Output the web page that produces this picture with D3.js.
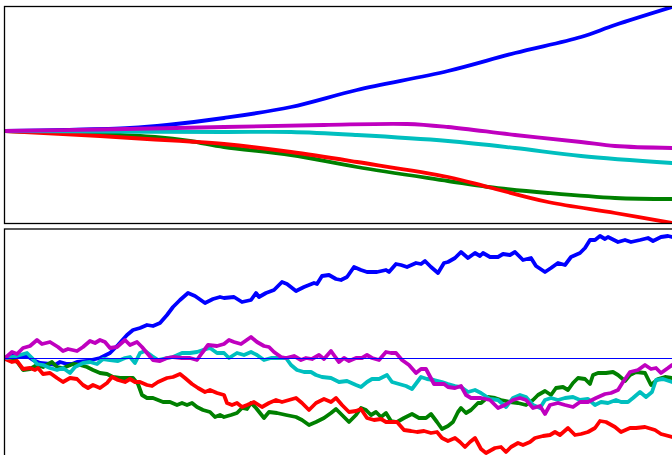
<!DOCTYPE html>
<html>
<head>
<meta charset="utf-8">
<script src="https://cdn.jsdelivr.net/npm/d3@7"></script>
<style>
  html, body { margin: 0; padding: 0; background: #fff; }
  svg { display: block; }
</style>
</head>
<body>
<svg id="chart" width="672" height="455"></svg>
<script>
// Series names and colours (drawn in this order, last on top)
const seriesNames = ["blue", "green", "red", "cyan", "magenta"];
const seriesColors = ["#0000ff", "#008000", "#ff0000", "#00bfbf", "#bf00bf"];

// Upper panel: expected paths, [step, value]
const meanBlue    = [[0,0],[60,1],[125,3],[162,6],[219,13],[286,24],[352,41],[443,60],[510,78],[576,94],[610,106],[667,124]];
const meanGreen   = [[0,0],[95,-3],[150,-6],[185,-10],[219,-16],[286,-24],[352,-36],[443,-50],[483,-56],[543,-62],[610,-67],[667,-68]];
const meanRed     = [[0,0],[95,-5],[150,-8.5],[185,-10.5],[219,-13],[286,-21],[352,-31],[443,-46],[483,-56],[543,-71],[610,-82],[667,-92]];
const meanCyan    = [[0,0],[100,-0.5],[219,-1],[286,-1],[352,-4],[443,-10],[510,-17],[576,-25],[667,-32]];
const meanMagenta = [[0,0],[95,1.5],[219,4],[319,6],[402,7],[443,4],[510,-4],[576,-11],[610,-15],[667,-17]];

// Lower panel: simulated paths, [step, value]
const pathBlue = [[0,0],[8,3],[15,1],[22,2],[28,-2],[35,-5],[45,-6],[50,-7],[55,-4],[62,-6],[67,-6],[72,-4],[82,-3],[95,0],[105,5],[113,13],[122,23],[128,28],[135,30],[142,33],[148,32],[155,35],[162,43],[168,51],[175,58],[183,65],[190,62],[200,55],[208,59],[215,61],[219,60],[229,61],[237,56],[246,58],[251,65],[254,61],[261,65],[269,68],[277,76],[282,74],[291,67],[299,71],[309,75],[312,74],[317,82],[324,83],[331,79],[336,78],[342,81],[349,91],[356,88],[362,86],[372,86],[381,88],[384,86],[391,94],[396,93],[402,91],[411,95],[416,94],[420,97],[426,91],[433,85],[439,95],[443,96],[450,100],[456,106],[463,100],[470,105],[475,102],[478,105],[485,101],[493,101],[498,104],[505,103],[510,106],[518,98],[526,100],[531,92],[540,86],[546,90],[553,95],[560,93],[566,101],[575,105],[580,110],[585,118],[590,118],[595,122],[600,119],[603,121],[613,116],[620,118],[626,116],[635,118],[643,120],[648,117],[656,121],[663,122],[667,121]];

const pathGreen = [[0,0],[8,0],[13,-5],[18,-12],[25,-11],[32,-7],[38,-9],[47,-4],[52,-9],[58,-10],[68,-6],[75,-7],[82,-9],[88,-12],[95,-15],[102,-16],[108,-19],[115,-20],[122,-20],[128,-20],[133,-26],[137,-37],[142,-40],[148,-40],[153,-42],[158,-44],[165,-44],[172,-47],[177,-45],[182,-47],[187,-45],[192,-49],[198,-52],[205,-54],[210,-59],[215,-57],[219,-59],[226,-57],[232,-55],[237,-50],[242,-51],[246,-45],[251,-50],[259,-60],[264,-54],[272,-55],[281,-57],[291,-59],[297,-62],[304,-67],[311,-64],[319,-60],[326,-55],[331,-51],[337,-57],[344,-64],[351,-57],[356,-50],[361,-52],[366,-57],[371,-54],[376,-59],[381,-55],[386,-63],[392,-64],[399,-60],[407,-56],[414,-60],[421,-60],[426,-56],[432,-64],[437,-71],[443,-68],[448,-64],[453,-54],[456,-50],[461,-55],[466,-52],[473,-45],[476,-45],[483,-39],[490,-40],[496,-42],[505,-44],[513,-45],[521,-47],[528,-42],[533,-37],[540,-33],[546,-37],[551,-30],[558,-29],[563,-32],[568,-25],[573,-20],[580,-21],[585,-26],[588,-17],[593,-15],[601,-15],[608,-14],[613,-17],[620,-23],[625,-17],[631,-14],[640,-15],[646,-27],[653,-21],[660,-19],[667,-20]];

const pathRed = [[0,-1],[7,-4],[12,-3],[18,-11],[25,-10],[30,-12],[33,-10],[38,-16],[45,-15],[52,-20],[58,-24],[65,-20],[72,-21],[78,-27],[83,-30],[88,-27],[95,-30],[102,-25],[107,-19],[113,-22],[120,-24],[125,-21],[130,-24],[135,-24],[142,-27],[147,-28],[153,-24],[162,-20],[168,-19],[175,-16],[180,-20],[187,-26],[193,-30],[200,-34],[205,-32],[212,-35],[219,-37],[222,-45],[227,-47],[232,-45],[237,-49],[242,-47],[249,-44],[257,-49],[264,-45],[271,-42],[277,-44],[284,-42],[291,-40],[297,-45],[304,-52],[311,-45],[319,-41],[326,-44],[331,-40],[337,-47],[344,-54],[351,-53],[356,-51],[362,-60],[369,-62],[376,-61],[381,-64],[387,-64],[392,-64],[399,-72],[406,-73],[412,-74],[419,-73],[426,-75],[432,-74],[437,-80],[443,-83],[450,-80],[455,-84],[460,-89],[465,-84],[470,-80],[476,-91],[481,-95],[490,-90],[496,-89],[501,-94],[506,-89],[513,-85],[518,-87],[525,-84],[530,-80],[538,-78],[545,-77],[550,-74],[555,-77],[563,-70],[570,-77],[576,-76],[583,-74],[590,-70],[595,-63],[601,-64],[610,-69],[616,-74],[625,-70],[631,-70],[640,-69],[650,-72],[656,-76],[667,-79]];

const pathCyan = [[0,0],[8,1],[15,3],[22,5],[27,0],[32,-6],[38,-7],[45,-10],[52,-12],[58,-10],[65,-15],[70,-9],[78,-5],[85,-4],[92,-6],[98,-1],[105,-2],[113,-3],[120,0],[125,1],[130,-5],[135,5],[140,7],[147,2],[153,-2],[162,0],[168,1],[177,5],[185,5],[192,6],[198,8],[205,10],[212,5],[219,5],[224,0],[232,5],[239,3],[246,6],[252,3],[259,-2],[266,0],[274,0],[281,0],[286,-7],[292,-12],[299,-14],[306,-14],[311,-17],[317,-19],[326,-20],[334,-24],[342,-23],[351,-27],[356,-29],[362,-24],[367,-21],[374,-21],[382,-17],[387,-24],[394,-26],[401,-28],[407,-31],[416,-19],[422,-21],[429,-22],[437,-24],[443,-26],[450,-28],[456,-29],[463,-34],[470,-32],[476,-35],[485,-41],[493,-42],[501,-49],[508,-40],[515,-37],[521,-39],[528,-47],[535,-50],[540,-42],[546,-40],[553,-42],[560,-40],[568,-39],[575,-42],[583,-41],[590,-47],[596,-44],[603,-45],[611,-42],[616,-44],[623,-44],[628,-40],[635,-34],[641,-39],[647,-34],[651,-22],[658,-21],[667,-24]];

const pathMagenta = [[0,0],[7,6],[12,4],[18,10],[25,12],[32,18],[37,14],[45,16],[53,11],[58,7],[63,9],[72,7],[78,11],[85,17],[90,15],[95,18],[100,16],[105,10],[112,11],[120,18],[125,13],[132,16],[137,11],[142,5],[148,-2],[155,-3],[162,0],[168,1],[177,0],[185,0],[192,-2],[197,5],[203,13],[212,12],[219,14],[224,18],[229,16],[236,14],[246,21],[252,16],[259,12],[264,11],[269,6],[276,1],[281,0],[289,2],[296,-2],[301,0],[307,-1],[314,3],[319,-1],[326,7],[331,0],[334,-4],[339,0],[344,-3],[351,0],[357,0],[362,3],[367,0],[374,-2],[381,6],[386,5],[391,5],[397,-2],[404,-7],[411,-15],[416,-11],[421,-11],[429,-26],[439,-26],[443,-29],[450,-30],[456,-28],[461,-37],[466,-40],[476,-40],[485,-42],[493,-50],[500,-47],[508,-42],[515,-40],[521,-42],[528,-50],[535,-48],[540,-56],[545,-47],[553,-45],[560,-47],[568,-49],[575,-44],[583,-44],[591,-40],[600,-36],[606,-35],[613,-32],[618,-24],[625,-14],[633,-12],[640,-7],[646,-11],[651,-10],[656,-15],[663,-10],[667,-7]];

const meanSeries = [meanBlue, meanGreen, meanRed, meanCyan, meanMagenta];
const pathSeries = [pathBlue, pathGreen, pathRed, pathCyan, pathMagenta];
const baselineValue = 0;

// Layout
const svg = d3.select("#chart");
const plotLeft = 5, plotRight = 676;
const top1 = 6.5, bottom1 = 223.5;
const top2 = 229, bottom2 = 470;

const x = d3.scaleLinear().domain([0, 671]).range([plotLeft, plotRight]);
const yTop = d3.scaleLinear().domain([-93, 125]).range([224, 6]);
const yBot = d3.scaleLinear().domain([-112, 129]).range([470, 229]);

const defs = svg.append("defs");
defs.append("clipPath").attr("id", "clipTop")
  .append("rect").attr("x", plotLeft).attr("y", top1).attr("width", plotRight - plotLeft).attr("height", bottom1 - top1);
defs.append("clipPath").attr("id", "clipBot")
  .append("rect").attr("x", plotLeft).attr("y", top2).attr("width", plotRight - plotLeft).attr("height", bottom2 - top2);

// Upper panel: smooth expected paths
const gTop = svg.append("g").attr("clip-path", "url(#clipTop)");
const smoothLine = d3.line()
  .x(d => x(d[0])).y(d => yTop(d[1]))
  .curve(d3.curveCatmullRom.alpha(0.5));
meanSeries.forEach((s, i) => {
  gTop.append("path")
    .datum(s)
    .attr("fill", "none")
    .attr("stroke", seriesColors[i])
    .attr("stroke-width", 3.8)
    .attr("stroke-linejoin", "round")
    .attr("stroke-linecap", "round")
    .attr("d", smoothLine);
});

// Lower panel: simulated paths
const gBot = svg.append("g").attr("clip-path", "url(#clipBot)");
const pathLine = d3.line()
  .x(d => x(d[0])).y(d => yBot(d[1]));
pathSeries.forEach((s, i) => {
  gBot.append("path")
    .datum(s)
    .attr("fill", "none")
    .attr("stroke", seriesColors[i])
    .attr("stroke-width", 3.8)
    .attr("stroke-linejoin", "round")
    .attr("stroke-linecap", "round")
    .attr("d", pathLine);
});

// Reference line at the starting level (snapped to the pixel grid)
const baseY = Math.round(yBot(baselineValue)) + 0.5;
gBot.append("line")
  .attr("x1", plotLeft).attr("x2", plotRight)
  .attr("y1", baseY).attr("y2", baseY)
  .attr("stroke", "#0000ff")
  .attr("stroke-width", 1);

// Panel frames
svg.append("rect")
  .attr("x", 4.5).attr("y", top1)
  .attr("width", plotRight - 4.5).attr("height", bottom1 - top1)
  .attr("fill", "none").attr("stroke", "#000").attr("stroke-width", 1.3);
svg.append("rect")
  .attr("x", 4.5).attr("y", top2)
  .attr("width", plotRight - 4.5).attr("height", bottom2 - top2)
  .attr("fill", "none").attr("stroke", "#000").attr("stroke-width", 1.3);
</script>
</body>
</html>
